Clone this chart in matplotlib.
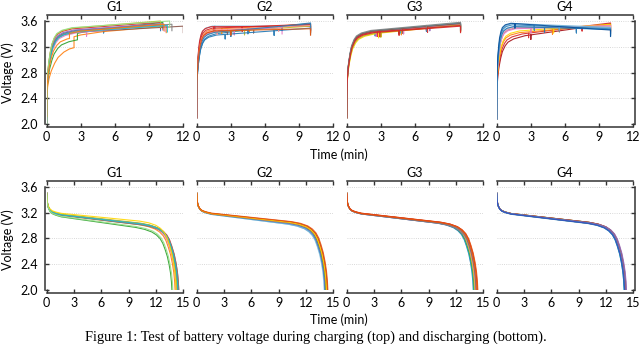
import numpy as np
import matplotlib
matplotlib.use("Agg")
import matplotlib.pyplot as plt

plt.rcParams['font.family'] = ['Lato', 'DejaVu Sans']

GROUPS = ["G1", "G2", "G3", "G4"]
CHG_XTICKS = [0, 3, 6, 9, 12]
DIS_XTICKS = [0, 3, 6, 9, 12, 15]
Y_TICKS = [2.0, 2.4, 2.8, 3.2, 3.6]
CAPTION = "Figure 1: Test of battery voltage during charging (top) and discharging (bottom)."

# typical shape of the charging knee (time in units of k, fraction of the rise)
RISE_T = [0, 0.01, 0.04, 0.1, 0.2, 0.35, 0.5, 0.75, 1.0, 1.5, 2.5]
RISE_F = [0, 0.25, 0.42, 0.54, 0.65, 0.76, 0.84, 0.91, 0.95, 0.98, 1.0]
PAUSE_DIP = 0.07
END_DROP = 0.10

# discharge start (min, fraction of the overshoot above the plateau)
DIS_START_V = 3.5
INIT_T = [0, 0.03, 0.1, 0.2, 0.35, 0.6, 1.0, 1.6]
INIT_F = [1.0, 0.7, 0.45, 0.3, 0.18, 0.09, 0.04, 0]
# discharge cut-off knee (min before cut-off, fraction of the drop to 2.0 V)
KNEE_T = [0, 0.05, 0.15, 0.3, 0.5, 0.75, 1.0, 1.3, 1.7, 2.2, 3.0, 4.0]
KNEE_F = [1.0, 0.86, 0.71, 0.57, 0.43, 0.31, 0.21, 0.135, 0.08, 0.04, 0.012, 0]

# ---- charging, one list per group ----
CHG_COLORS = [
    ['#1f77b4', '#ff7f0e', '#2ca02c', '#d62728', '#9467bd', '#8c564b',
     '#e377c2', '#7f7f7f', '#bcbd22', '#17becf', '#98df8a', '#ff7f0e'],
    ['#1f77b4', '#6baed6', '#ff7f0e', '#d62728', '#8c564b', '#bcbd22',
     '#e377c2', '#1f77b4', '#d62728', '#ff9896', '#2c7fb8', '#e6550d'],
    ['#1f77b4', '#ffd700', '#ff7f0e', '#2ca02c', '#9467bd', '#e377c2',
     '#17becf', '#bcbd22', '#d62728', '#8c564b', '#7f7f7f', '#d62728'],
    ['#a50f15', '#d62728', '#ff7f0e', '#ffd700', '#7f7f7f', '#e377c2',
     '#fa9fb5', '#9ecae1', '#1f77b4', '#6baed6', '#3182bd', '#08519c'],
]
CHG_V0 = [
    [2.0, 2.3, 2.2, 2.0, 2.0, 2.0, 2.0, 2.0, 2.0, 2.0, 2.0, 2.2],
    [2.1] * 12,
    [2.1] * 12,
    [2.08] * 12,
]
CHG_K = [
    [1.0, 2.0, 1.3, 0.9, 0.95, 1.0, 1.1, 1.0, 0.9, 1.05, 0.9, 1.2],
    [0.7, 0.55, 0.6, 0.5, 0.6, 0.6, 0.65, 0.7, 0.55, 0.6, 0.65, 0.6],
    [0.9, 1.05, 0.95, 0.9, 0.9, 0.95, 0.9, 1.0, 0.9, 0.9, 0.85, 0.95],
    [1.0, 0.9, 0.8, 0.8, 0.65, 0.65, 0.65, 0.6, 0.6, 0.55, 0.55, 0.5],
]
CHG_VK = [
    [3.42, 3.36, 3.36, 3.45, 3.43, 3.40, 3.38, 3.41, 3.46, 3.40, 3.47, 3.40],
    [3.37, 3.52, 3.46, 3.51, 3.43, 3.41, 3.42, 3.36, 3.48, 3.45, 3.40, 3.44],
    [3.40, 3.36, 3.38, 3.40, 3.41, 3.39, 3.41, 3.37, 3.40, 3.41, 3.42, 3.39],
    [3.31, 3.35, 3.39, 3.42, 3.49, 3.47, 3.50, 3.52, 3.52, 3.57, 3.55, 3.58],
]
CHG_VEND = [
    [3.55, 3.52, 3.58, 3.58, 3.56, 3.52, 3.54, 3.55, 3.60, 3.53, 3.60, 3.55],
    [3.57, 3.52, 3.55, 3.52, 3.54, 3.52, 3.50, 3.49, 3.55, 3.53, 3.56, 3.48],
    [3.56, 3.54, 3.54, 3.55, 3.56, 3.55, 3.57, 3.54, 3.53, 3.56, 3.58, 3.52],
    [3.56, 3.57, 3.54, 3.55, 3.51, 3.53, 3.52, 3.50, 3.47, 3.50, 3.48, 3.46],
]
CHG_TEND = [
    [10.0, 10.5, 10.2, 10.0, 10.2, 12.0, 10.4, 11.0, 10.0, 10.6, 10.8, 10.3],
    [10.0, 10.0, 10.0, 10.0, 10.0, 10.0, 7.5, 10.0, 10.0, 10.0, 10.0, 10.0],
    [10.0] * 12,
    [10.0] * 12,
]
CHG_PAUSES = [
    [[5.0], [], [], [], [], [], [3.5], [], [], [], [], []],
    [[3.0, 7.5], [1.6], [2.2, 4.6], [1.5], [2.7, 5.0], [4.2],
     [3.3], [2.5, 6.8], [4.0], [1.8, 7.2], [4.5], [3.0]],
    [[2.5, 7.0], [2.8], [3.0, 4.8], [4.6], [7.3], [2.6, 5.0],
     [4.7], [3.0], [2.7, 7.1], [4.9], [7.0], [2.9, 4.6]],
    [[3.0], [2.8, 7.5], [4.9], [5.0], [5.5], [3.0],
     [7.0], [7.0], [4.2, 7.0], [1.6, 5.5], [3.3], [1.6]],
]
# (time, step size) where a cell jumps up to the main bundle
CHG_JUMP = [
    [None, (2.4, 0.17), (2.7, 0.10), None, None, None,
     None, None, None, None, None, (2.0, 0.08)],
    [None] * 12,
    [None] * 12,
    [None] * 12,
]

# ---- discharging ----
DIS_COLORS = [
    ['#1f77b4', '#ff7f0e', '#2ca02c', '#d62728', '#9467bd', '#8c564b',
     '#e377c2', '#7f7f7f', '#bcbd22', '#17becf', '#ffd700', '#98df8a'],
    ['#9ecae1', '#6baed6', '#1f77b4', '#bcbd22', '#9467bd', '#2ca02c',
     '#e377c2', '#ff7f0e', '#8c564b', '#d62728', '#ffd700', '#e6550d'],
    ['#1f77b4', '#17becf', '#2ca02c', '#bcbd22', '#9467bd', '#ffd700',
     '#e377c2', '#7f7f7f', '#8c564b', '#ff7f0e', '#d62728', '#e6550d'],
    ['#17becf', '#2ca02c', '#bcbd22', '#ff7f0e', '#d62728', '#e377c2',
     '#8c564b', '#9467bd', '#7f7f7f', '#6baed6', '#1f77b4', '#3b4cc0'],
]
DIS_VP0 = [
    [3.19, 3.185, 3.165, 3.19, 3.195, 3.19, 3.19, 3.185, 3.20, 3.19, 3.21, 3.17],
    [3.20, 3.20, 3.205, 3.205, 3.21, 3.205, 3.205, 3.21, 3.21, 3.21, 3.21, 3.215],
    [3.205, 3.21, 3.21, 3.21, 3.205, 3.21, 3.21, 3.205, 3.21, 3.215, 3.215, 3.21],
    [3.205, 3.21, 3.205, 3.21, 3.21, 3.205, 3.21, 3.205, 3.21, 3.205, 3.20, 3.205],
]
DIS_SLOPE = [
    [0.016, 0.017, 0.020, 0.016, 0.016, 0.017, 0.016, 0.017, 0.016, 0.016, 0.014, 0.019],
    [0.018, 0.018, 0.017, 0.016, 0.017, 0.016, 0.016, 0.016, 0.016, 0.015, 0.016, 0.015],
    [0.017, 0.017, 0.017, 0.016, 0.017, 0.016, 0.016, 0.017, 0.016, 0.016, 0.016, 0.016],
    [0.017, 0.016, 0.017, 0.016, 0.016, 0.017, 0.016, 0.016, 0.017, 0.017, 0.017, 0.017],
]
DIS_TEND = [
    [14.4, 14.1, 13.75, 14.5, 14.3, 14.4, 14.2, 14.5, 14.3, 14.4, 14.2, 13.85],
    [14.0, 14.05, 14.1, 14.2, 14.15, 14.2, 14.3, 14.25, 14.35, 14.3, 14.25, 14.4],
    [13.9, 13.95, 14.0, 14.05, 14.1, 14.1, 14.15, 14.2, 14.25, 14.3, 14.35, 14.4],
    [14.0, 14.05, 14.1, 14.1, 14.15, 14.2, 14.2, 14.25, 14.1, 14.05, 14.0, 14.05],
]


def charge_curve(v0, k, vk, vend, tend, pauses, jump):
    s = (vend - vk) / tend

    def volt(t):
        return v0 + (vk - v0) * np.interp(t / k, RISE_T, RISE_F) + s * t

    knots = [t * k for t in RISE_T if t * k < tend] + list(pauses) + [tend]
    if jump:
        knots.append(jump[0])
    ts, vs = [], []
    for t in sorted(set(knots)):
        v = volt(t)
        if jump and t == jump[0]:
            ts += [t, t]
            vs += [v - jump[1], v]
        elif t in pauses:
            ts += [t, t, t]
            vs += [v, v - PAUSE_DIP, v]
        elif t == tend:
            ts += [t, t]
            vs += [v, v - END_DROP]
        else:
            ts.append(t)
            vs.append(v - (jump[1] if jump and t < jump[0] else 0))
    return ts, vs


def discharge_curve(vp0, slope, tend):
    drop = vp0 - slope * tend - 2.0
    ts = list(INIT_T)
    vs = [vp0 - slope * t + (DIS_START_V - vp0) * f for t, f in zip(INIT_T, INIT_F)]
    for tau, f in sorted(zip(KNEE_T, KNEE_F), reverse=True):
        t = tend - tau
        ts.append(t)
        vs.append(vp0 - slope * t - drop * f)
    return ts, vs


def style_axes(ax, xticks, first, last):
    ax.set_xlim(0, xticks[-1])
    ax.set_ylim(2.0, 3.693)
    ax.set_xticks(xticks)
    ax.set_yticks(Y_TICKS)
    ax.set_yticklabels([f"{y:.1f}" for y in Y_TICKS])
    ax.grid(axis='y', linestyle=':', linewidth=0.6, color='#cccccc')
    ax.set_axisbelow(True)
    for side in ['top', 'bottom', 'left', 'right']:
        ax.spines[side].set_linewidth(1.1)
        ax.spines[side].set_color('#333333')
    ax.spines['bottom'].set_position(('outward', 2.2))
    ax.spines['left'].set_position(('outward', 1.2))
    ax.spines['right'].set_position(('outward', 1.2))
    ax.spines['left'].set_bounds(2.0, 3.6)
    ax.spines['right'].set_bounds(2.0, 3.6)
    ax.spines['left'].set_visible(first)
    ax.spines['right'].set_visible(last)
    ax.tick_params(axis='x', direction='in', top=True, bottom=True,
                   length=2.6, width=1.0, color='#333333', labelsize=9, pad=2.5)
    ax.tick_params(axis='y', direction='in', left=first, right=last,
                   labelleft=first, labelright=False,
                   length=2.6, width=1.0, color='#333333', labelsize=9, pad=5)


fig = plt.figure(figsize=(6.4, 3.44), dpi=100)
W, H = 640.0, 344.0
lefts = [46.7, 196.7, 346.7, 496.7]
pw = 136.6

for i, g in enumerate(GROUPS):
    # charging row
    ax = fig.add_axes([lefts[i] / W, 1 - 124.3 / H, pw / W, (124.3 - 15) / H])
    for j, c in enumerate(CHG_COLORS[i]):
        ts, vs = charge_curve(CHG_V0[i][j], CHG_K[i][j], CHG_VK[i][j], CHG_VEND[i][j],
                              CHG_TEND[i][j], CHG_PAUSES[i][j], CHG_JUMP[i][j])
        ax.plot(ts, vs, color=c, linewidth=0.8, alpha=0.9)
    style_axes(ax, CHG_XTICKS, i == 0, i == 3)
    ax.set_title(g, fontsize=9, pad=3)

    # discharging row
    ax = fig.add_axes([lefts[i] / W, 1 - 290 / H, pw / W, (290 - 180.7) / H])
    for j, c in enumerate(DIS_COLORS[i]):
        ts, vs = discharge_curve(DIS_VP0[i][j], DIS_SLOPE[i][j], DIS_TEND[i][j])
        ax.plot(ts, vs, color=c, linewidth=0.8, alpha=0.9)
    style_axes(ax, DIS_XTICKS, i == 0, i == 3)
    ax.set_title(g, fontsize=9, pad=3)

for yc, yt in [(73, 155), (240, 320)]:
    fig.text(8 / W, 1 - yc / H, "Voltage (V)", rotation=90, ha='center', va='center', fontsize=9)
    fig.text(339 / W, 1 - yt / H, "Time (min)", ha='center', va='center', fontsize=9)

fig.text(85 / W, 1 - 330 / H, CAPTION, ha='left', va='top',
         fontsize=10.4, family=['Liberation Serif', 'DejaVu Serif'])

fig.savefig("out.png", dpi=100)
